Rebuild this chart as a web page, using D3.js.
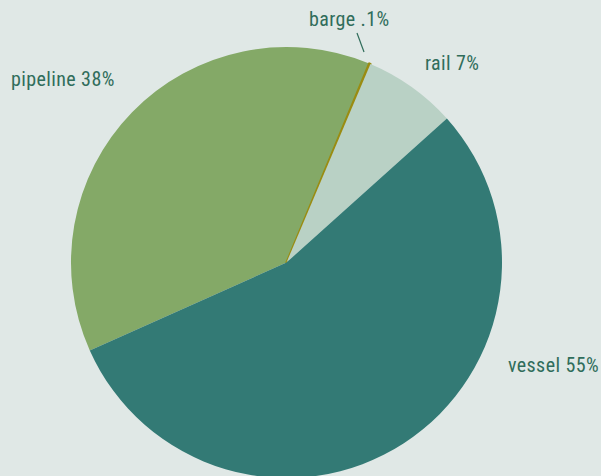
<!DOCTYPE html>
<html>
<head>
<meta charset="utf-8">
<script src="https://cdn.jsdelivr.net/npm/d3@7"></script>
<style>
  html, body { margin: 0; padding: 0; background: #e0e8e6; }
  svg { display: block; }
  .lbl { font-family: "Roboto Condensed", "Liberation Sans Narrow", "DejaVu Sans Condensed", sans-serif; font-size: 20px; letter-spacing: 0.4px; fill: #306d5b; }
</style>
</head>
<body>
<svg id="chart" width="601" height="476"></svg>
<script>
// Freight modes and their share of volume (%)
const modes = ["pipeline", "barge", "rail", "vessel"];
const shares = [38, 0.1, 7, 55];
const shareLabels = ["38%", ".1%", "7%", "55%"];
const colors = ["#84a967", "#9a8c12", "#b9d1c5", "#337a75"];

const width = 601, height = 476;
const cx = 286.5, cy = 262.5, radius = 215.5;

const svg = d3.select("#chart");
svg.append("rect").attr("width", width).attr("height", height).attr("fill", "#e0e8e6");

const data = modes.map((m, i) => ({ mode: m, value: shares[i], label: shareLabels[i], color: colors[i] }));

// pie starts at the pipeline/vessel boundary, lower left, and runs clockwise
const startDeg = 245.9;
const pie = d3.pie()
  .sort(null)
  .value(d => d.value)
  .startAngle(startDeg * Math.PI / 180)
  .endAngle((startDeg + 360) * Math.PI / 180);

const arc = d3.arc().innerRadius(0).outerRadius(radius);

const g = svg.append("g").attr("transform", `translate(${cx},${cy})`);
const slices = pie(data);

g.selectAll("path.slice")
  .data(slices)
  .join("path")
  .attr("class", "slice")
  .attr("d", arc)
  .attr("fill", d => d.data.color)
  .attr("stroke", d => d.data.mode === "barge" ? d.data.color : "none")
  .attr("stroke-width", 2.2)
  .attr("stroke-linejoin", "round");

// label placement (start of the text baseline)
const labelXY = {
  pipeline: [11, 86],
  barge: [309, 26],
  rail: [425, 70],
  vessel: [508, 372]
};
const textSel = svg.append("g").attr("class", "labels");
slices.forEach(s => {
  const [x, y] = labelXY[s.data.mode];
  textSel.append("text").attr("class", "lbl")
    .attr("x", x).attr("y", y)
    .text(`${s.data.mode} ${s.data.label}`);
});

// leader line under the barge label toward the thin slice
const [bx, by] = labelXY.barge;
svg.append("line")
  .attr("x1", bx + 48).attr("y1", by + 7)
  .attr("x2", bx + 55).attr("y2", by + 26)
  .attr("stroke", "#306d5b").attr("stroke-width", 1.2);
</script>
</body>
</html>
